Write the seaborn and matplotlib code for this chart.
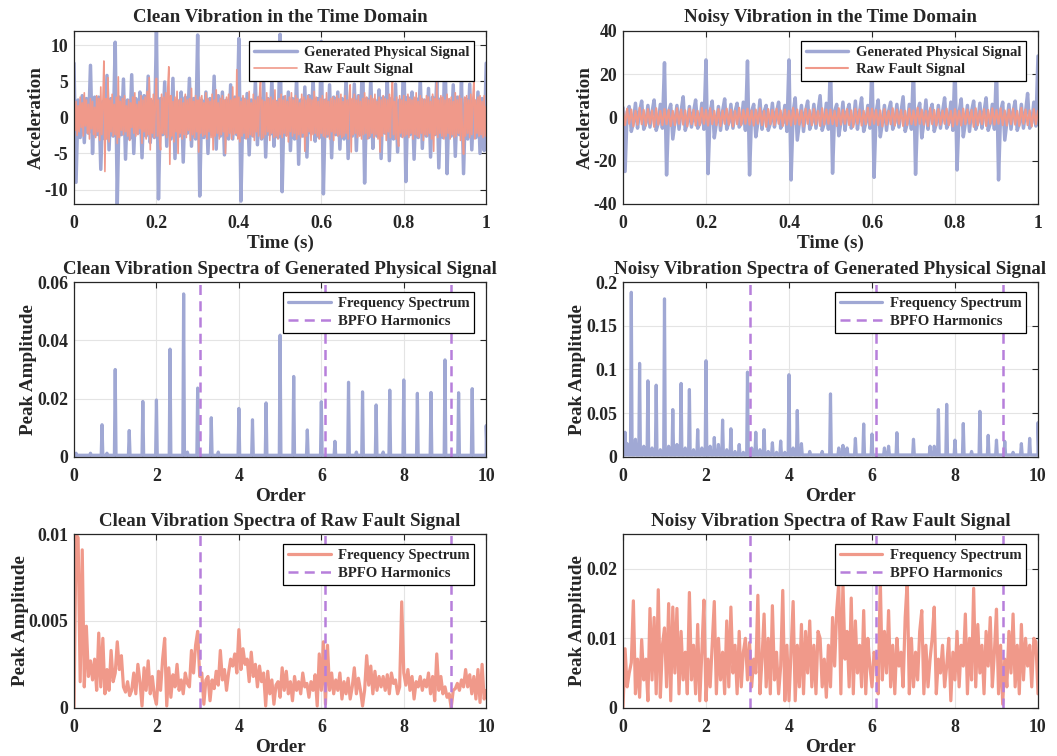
import numpy as np
import pandas as pd
import matplotlib
matplotlib.use("Agg")
import matplotlib.pyplot as plt
import seaborn as sns
from matplotlib.ticker import FuncFormatter

sns.set_style("white")
plt.rcParams["font.family"] = ["Liberation Serif", "DejaVu Serif"]
plt.rcParams.update({"font.weight": "bold", "axes.titleweight": "bold",
                     "axes.labelweight": "bold"})

BLUE = "#A0A8D4"
SALMON = "#F0998A"
PURPLE = "#B77FDB"

# ---------------- time domain data ----------------
# generated physical signal, clean, one sample every 0.005 s
clean_phys = [
    7.5, -9.0, 2.4, -2.8, 3.0, -3.5, 2.6, -2.2, 7.2, -5.0, 2.8, -2.4, 2.8, -7.2, 2.2, -3.0, 5.8, -4.5, 2.6, -2.6,
    10.4, -12.0, 2.8, -2.4, 5.3, -5.8, 2.4, -3.0, 5.9, -5.0, 2.6, -2.2, 3.5, -5.6, 3.0, -2.6, 5.7, -3.5, 2.2, -2.8,
    12.0, -11.3, 2.6, -2.4, 4.9, -4.0, 2.8, -3.0, 5.4, -5.7, 2.4, -2.6, 3.5, -6.2, 2.8, -2.2, 5.4, -4.0, 2.6, -3.0,
    11.4, -10.9, 2.4, -2.8, 3.5, -5.0, 2.6, -2.4, 5.7, -4.4, 3.0, -2.6, 3.5, -5.2, 2.4, -3.0, 4.5, -3.0, 2.8, -2.4,
    10.9, -11.6, 2.6, -2.8, 3.3, -5.2, 2.4, -2.6, 5.0, -3.8, 2.8, -3.0, 4.8, -5.5, 2.6, -2.4, 5.3, -4.0, 2.2, -2.8,
    11.5, -10.3, 2.8, -2.4, 3.5, -4.6, 2.6, -3.0, 5.6, -6.5, 2.4, -2.6, 4.2, -5.5, 3.0, -2.2, 5.5, -3.3, 2.6, -2.8,
    10.5, -10.6, 2.4, -2.6, 4.5, -5.6, 2.8, -2.4, 3.5, -4.4, 2.6, -3.0, 5.6, -5.7, 2.4, -2.6, 4.6, -4.6, 3.0, -2.4,
    9.5, -9.1, 2.6, -2.8, 5.5, -4.3, 2.4, -2.6, 3.8, -5.7, 2.8, -2.2, 5.2, -6.0, 2.6, -3.0, 4.6, -4.8, 2.4, -2.6,
    10.0, -8.9, 2.8, -2.4, 3.5, -5.8, 2.6, -2.8, 5.4, -4.3, 2.4, -2.6, 4.0, -5.5, 2.8, -2.4, 5.4, -7.0, 2.6, -2.8,
    10.0, -7.8, 2.4, -2.6, 4.5, -5.4, 2.8, -2.4, 5.0, -7.8, 2.6, -3.0, 4.6, -4.5, 2.4, -2.8, 3.5, -5.0, 2.6, -4.6,
    7.5,
]

# raw fault signal, clean, one sample every 0.0025 s
clean_raw = [
    0.5, -1.8, 2.2, -2.5, 1.6, -2.0, 2.8, -1.4, 2.0, -2.6, 3.4, -1.2, 2.4, -2.2, 1.8, -3.0, 2.6, -1.6, 2.2, -2.4,
    1.4, -2.8, 3.0, -2.0, 2.6, -3.2, 4.2, -2.4, 2.0, 7.8, -7.5, 2.6, -3.0, 5.5, -3.4, 2.4, -2.0, 3.2, -2.6, 1.8,
    -2.4, 2.8, -3.6, 5.6, -2.8, 2.2, -1.8, 2.6, -2.4, 3.0, -2.0, 1.6, -2.6, 2.4, -3.2, 2.0, -1.4, 2.8, -2.2, 3.4,
    -2.6, 1.8, -2.4, 2.2, -1.6, 3.0, -3.6, 2.4, -2.0, 2.8, -3.0, 3.6, -2.4, 5.5, -4.5, 2.6, -2.2, 3.2, -2.8, 2.0,
    5.4, -2.6, 2.4, -3.0, -4.5, 3.2, -2.2, 2.8, -2.4, 3.4, -2.8, 4.0, 7.0, -6.5, 3.0, -2.6, 2.2, -3.4, 2.8, -2.0,
    3.6, -5.0, 2.4, -2.2, 2.6, -3.0, 2.0, -2.4, 3.2, -2.8, 2.4, -1.8, 2.6, -3.2, 4.0, -2.4, 2.2, -2.8, 3.0, -2.0,
    2.4, -4.8, 2.8, -2.2, 3.0, -2.6, 2.0, -2.4, 3.4, -3.0, 2.6, -2.0, 2.2, -2.8, 3.2, -4.5, 2.4, -2.6, 3.8, -2.2,
    2.0, -3.0, 2.6, -2.4, 3.0, -2.0, 2.4, -5.0, 2.8, -2.6, 3.2, -2.2, 2.4, -3.0, 4.2, -2.4, 2.6, -2.2, 6.6, -3.0,
    2.8, -3.4, 2.2, -2.6, 3.0, -2.2, 2.6, -3.0, 2.4, -2.8, 3.6, -2.4, 2.0, -2.6, 3.2, -3.2, 2.4, -2.0, 2.8, -2.6,
    3.0, 5.0, -3.0, 2.4, -2.8, 2.2, -2.4, 3.4, -2.0, 2.6, -3.2, 2.8, -2.2, 2.4, -2.8, 3.8, -2.6, 2.2, -3.0, 2.6,
    -2.4, 3.2, -2.8, 2.4, -2.2, 3.0, -2.6, 2.2, -3.4, 2.8, -2.0, 3.4, -2.6, 2.4, -2.2, 3.0, -3.0, 2.6, -2.4, 2.0,
    -2.8, 3.2, -2.2, 2.8, -4.7, 2.4, -2.6, 3.0, -2.0, 2.6, -3.2, 2.4, -2.4, 3.6, -2.2, 2.8, -2.6, 2.2, -3.0, 2.6,
    -2.2, 3.0, -2.6, 2.4, -2.8, 3.4, -2.4, 2.2, -3.0, 2.6, -2.0, 2.8, -3.2, 2.4, -2.2, 3.0, -2.6, 2.6, -2.4, 3.2,
    -2.8, 2.2, -2.6, 3.0, -2.2, 2.4, -3.0, 2.8, 4.5, -4.8, 2.6, -2.4, 3.2, -2.2, 2.4, -2.8, 3.0, -2.6, 2.2, -3.0,
    2.6, -2.4, 3.4, -2.2, 2.8, -3.0, 2.4, -2.6, 3.0, -2.2, 2.6, -2.8, 3.2, -2.4, 2.2, -3.0, 2.8, -4.8, 2.4, -2.6,
    3.0, -2.2, 2.6, -3.2, 2.4, -2.0, 3.2, -2.8, 2.6, 5.0, -2.4, 2.2, -3.0, 2.8, -2.6, -4.0, 3.0, -2.2, 2.4, -2.8,
    3.0, -2.6, 2.2, -2.4, 3.2, -2.8, 2.6, -2.2, 2.4, -3.0, 2.8, -2.4, 3.4, -2.6, 2.2, -2.8, 3.0, -2.2, 2.6, -3.2,
    2.4, -2.4, 3.0, -2.6, 2.8, -2.2, 2.2, -3.0, 3.2, -4.7, 2.6, -2.4, 4.8, -2.8, 2.4, -2.2, 3.0, -2.6, 2.8, -3.0,
    2.4, -2.6, 3.2, -2.2, 2.6, -3.0, 2.8, -2.4, 2.2, -2.8, 3.4, -2.6, 2.4, -2.2, 3.0, -3.2, 2.6, -2.4, -5.1, 2.8,
    -2.6, 3.0, -2.2, 2.4, -2.8, 3.2, -2.4, 2.6, 5.0, -3.0, 2.4, -2.2, 2.8, -2.6, 3.0, -2.4, 2.2, -2.8, 3.0, -2.6,
    1.5,
]

# generated physical signal, noisy, one sample every 0.005 s
noisy_phys = [
    4.5, -25.0, 2.5, 5.0, -6.5, -2.4, 6.5, -5.0, 2.6, 7.5, -5.5, -2.8, 5.5, -4.5, 2.4, 8.0, -6.0, -2.6, 6.0, -5.0,
    25.2, -26.6, 2.6, 6.0, -10.0, -2.4, 5.5, -5.5, 2.8, 9.5, -6.0, -2.6, 5.0, -4.5, 2.4, 8.0, -5.0, -2.8, 6.5, -5.5,
    26.5, -26.0, 2.4, 7.5, -9.5, -2.6, 5.0, -6.0, 2.8, 8.5, -5.5, -2.4, 6.0, -5.0, 2.6, 6.5, -4.5, -2.8, 7.0, -6.0,
    26.0, -26.6, 2.8, 6.0, -9.0, -2.4, 8.0, -5.5, 2.6, 5.5, -6.0, -2.8, 6.5, -4.5, 2.4, 7.0, -5.0, -2.6, 5.5, -6.5,
    26.5, -28.9, 2.4, 9.0, -10.5, -2.6, 5.5, -6.5, 2.8, 7.5, -5.5, -2.4, 6.0, -5.0, 2.6, 10.0, -6.0, -2.8, 6.5, -5.5,
    26.0, -25.8, 2.8, 6.0, -8.5, -2.4, 7.0, -6.0, 2.6, 6.0, -5.0, -2.8, 7.5, -5.5, 2.4, 9.0, -6.5, -2.6, 5.5, -5.0,
    25.0, -27.7, 2.4, 8.0, -9.0, -2.6, 5.5, -6.0, 2.8, 7.0, -5.5, -2.4, 6.0, -4.5, 2.6, 9.5, -6.5, -2.8, 6.0, -5.5,
    24.0, -26.3, 2.8, 6.5, -9.5, -2.4, 8.0, -5.5, 2.6, 6.0, -6.5, -2.8, 5.5, -5.0, 2.4, 9.0, -5.0, -2.6, 7.0, -6.0,
    25.0, -24.3, 2.4, 8.5, -9.0, -2.6, 5.5, -6.5, 2.8, 7.5, -5.5, -2.4, 6.5, -5.0, 2.6, 9.0, -6.0, -2.8, 6.0, -5.5,
    24.0, -28.9, 2.8, 7.0, -10.5, -2.4, 6.0, -5.5, 2.6, 7.5, -6.0, -2.8, 6.0, -5.0, 2.4, 11.0, -5.0, -2.6, 7.0, -4.0,
    28.3,
]

# raw fault signal, noisy, one sample every 0.005 s
noisy_raw = [
    3.2, -3.6, 4.0, -3.0, 3.6, -4.2, 3.0, -3.4, 4.4, -3.2, 3.4, -3.8, 3.8, -3.0, 3.2, -4.4, 4.2, -3.4, 3.0, -3.6,
    3.8, -3.2, 3.4, -4.0, 3.0, -3.6, 4.2, -3.0, 3.6, -3.4, 3.2, -4.2, 4.0, -3.2, 3.4, -3.8, 3.0, -3.6, 4.4, -3.0,
    3.4, -3.8, 4.2, -3.2, 3.0, -3.6, 3.8, -4.0, 3.2, -3.0, 4.0, -3.4, 3.6, -4.2, 3.0, -3.2, 4.4, -3.6, 3.4, -3.0,
    4.0, -3.4, 3.2, -3.8, 3.6, -3.0, 4.2, -3.6, 3.0, -4.4, 3.8, -3.2, 3.4, -3.6, 4.0, -3.0, 3.2, -4.0, 3.6, -3.4,
    3.0, -3.8, 4.4, -3.2, 3.6, -3.4, 3.2, -4.2, 4.0, -3.0, 3.4, -3.6, 3.8, -3.2, 3.0, -4.0, 4.2, -3.4, 3.6, -3.0,
    3.6, -3.2, 3.0, -4.0, 4.2, -3.4, 3.4, -3.0, 3.8, -3.6, 3.2, -4.4, 4.0, -3.0, 3.6, -3.8, 3.0, -3.2, 4.4, -3.6,
    4.0, -3.0, 3.4, -3.6, 3.2, -4.2, 3.8, -3.4, 3.0, -3.2, 4.2, -3.8, 3.6, -3.0, 3.4, -4.0, 3.0, -3.6, 4.0, -3.2,
    3.2, -3.6, 4.4, -3.0, 3.6, -3.4, 3.0, -4.0, 4.2, -3.2, 3.4, -3.8, 3.8, -3.4, 3.2, -3.0, 4.0, -3.6, 3.0, -4.2,
    3.8, -3.4, 3.0, -3.8, 4.0, -3.2, 3.6, -3.0, 3.4, -4.4, 4.2, -3.6, 3.0, -3.2, 3.8, -4.0, 3.4, -3.0, 4.2, -3.4,
    3.4, -3.0, 4.2, -3.6, 3.2, -3.8, 3.6, -3.2, 4.0, -3.4, 3.0, -4.0, 4.4, -3.0, 3.6, -3.6, 3.2, -4.2, 3.8, -3.2,
    3.0,
]

# ---------------- spectra data ----------------
bpfo_orders = [3.05, 6.10, 9.15]

clean_phys_orders = [0.05, 0.4, 0.68, 0.8, 1.0, 1.34, 1.67, 2.0, 2.33, 2.66, 2.75, 3.0, 3.33, 3.5,
                     4.0, 4.33, 4.66, 5.0, 5.33, 5.66, 6.0, 6.33, 6.66, 6.85, 7.0, 7.33, 7.5,
                     7.66, 8.0, 8.33, 8.66, 9.0, 9.33, 9.66, 10.0]
clean_phys_amps = [0.0012, 0.0012, 0.011, 0.0012, 0.030, 0.009, 0.019, 0.0195, 0.037, 0.056, 0.0016,
                   0.0236, 0.0134, 0.0016, 0.0166, 0.0127, 0.0185, 0.0418, 0.0276, 0.0092, 0.0189,
                   0.0053, 0.0256, 0.0016, 0.0223, 0.0178, 0.0016, 0.0229, 0.0264, 0.0218, 0.0221,
                   0.0333, 0.022, 0.0234, 0.0107]

noisy_phys_orders = [0.05, 0.1, 0.2, 0.3, 0.4, 0.5, 0.6, 0.7, 0.8, 0.9, 1.0, 1.1, 1.2, 1.3, 1.4, 1.5,
                     1.6, 1.7, 1.8, 1.9, 2.0, 2.1, 2.2, 2.3, 2.4, 2.5, 2.6, 2.7, 2.8, 2.9, 3.0, 3.1,
                     3.2, 3.3, 3.4, 3.5, 3.6, 3.7, 3.8, 3.9, 4.0, 4.1, 4.2, 4.3, 4.5, 4.8, 5.0, 5.2,
                     5.3, 5.4, 5.6, 5.8, 6.0, 6.3, 6.4, 6.6, 7.0, 7.4, 7.5, 7.6, 7.8, 8.0, 8.2, 8.4,
                     8.6, 8.8, 9.0, 9.2, 9.4, 9.6, 9.8, 10.0]
noisy_phys_amps = [0.028, 0.015, 0.1885, 0.02, 0.107, 0.012, 0.087, 0.01, 0.082, 0.008, 0.181, 0.012,
                   0.054, 0.014, 0.084, 0.01, 0.077, 0.008, 0.031, 0.01, 0.11, 0.012, 0.022, 0.014,
                   0.042, 0.008, 0.032, 0.006, 0.014, 0.005, 0.097, 0.01, 0.028, 0.008, 0.031, 0.006,
                   0.016, 0.005, 0.018, 0.005, 0.094, 0.01, 0.053, 0.015, 0.006, 0.006, 0.072, 0.01,
                   0.013, 0.01, 0.021, 0.0375, 0.026, 0.01, 0.012, 0.0275, 0.02, 0.012, 0.012, 0.054,
                   0.06, 0.019, 0.038, 0.006, 0.052, 0.0245, 0.019, 0.0176, 0.005, 0.015, 0.021, 0.039]

# raw fault spectra, amplitudes in 1e-3, one value every 0.05 order
clean_raw_spec = [
    0.0, 10.0, 9.8, 1.5, 9.1, 1.2, 4.7, 1.8, 2.7, 1.6, 2.8, 1.0, 4.3, 1.2, 4.0, 0.8, 2.2, 1.0, 3.3, 1.5,
    2.0, 3.8, 2.2, 3.0, 1.2, 0.9, 1.5, 0.7, 1.0, 2.0, 0.8, 2.5, 1.5, 0.1, 2.3, 1.0, 2.7, 0.8, 1.8, 0.7,
    0.2, 2.1, 1.0, 2.8, 4.0, 0.1, 2.3, 0.6, 1.9, 1.2, 2.5, 1.0, 1.6, 0.8, 2.0, 1.4, 1.2, 3.3, 2.0, 3.6,
    4.4, 1.8, 2.0, 0.2, 1.6, 1.8, 0.4, 1.6, 1.1, 2.1, 1.3, 3.3, 1.6, 2.2, 1.0, 2.0, 2.8, 2.4, 3.1, 2.0,
    4.5, 2.2, 3.4, 2.5, 2.8, 1.5, 3.2, 1.8, 2.5, 1.2, 2.4, 1.5, 2.0, 0.1, 2.1, 0.8, 1.6, 0.2, 1.3, 1.5,
    0.6, 2.3, 1.0, 2.1, 0.8, 1.5, 0.4, 1.8, 1.0, 1.5, 0.8, 2.0, 1.2, 1.4, 0.6, 1.5, 1.0, 1.9, 0.1, 3.1,
    1.0, 3.8, 0.2, 3.6, 1.0, 2.0, 0.8, 1.6, 1.0, 2.0, 0.5, 1.5, 0.8, 1.7, 0.5, 1.2, 2.3, 0.8, 1.7, 1.0,
    0.1, 1.0, 3.0, 1.3, 2.4, 0.8, 2.1, 1.0, 1.8, 1.2, 1.8, 1.0, 1.9, 0.8, 2.0, 1.4, 1.6, 0.8, 1.2, 6.1,
    2.0, 1.3, 2.2, 1.0, 1.8, 0.5, 1.5, 1.2, 1.8, 1.0, 1.6, 1.2, 2.0, 0.8, 1.8, 0.4, 3.1, 1.0, 1.8, 0.8,
    1.2, 0.6, 0.8, 0.0, 1.0, 1.1, 1.4, 1.0, 1.6, 1.2, 2.2, 1.2, 1.9, 0.8, 1.8, 0.5, 2.2, 0.3, 2.5, 0.5,
    1.0,
]
noisy_raw_spec = [
    0.0, 8.5, 3.0, 5.0, 6.5, 15.4, 2.0, 7.0, 1.5, 9.8, 4.0, 7.0, 1.0, 14.3, 4.0, 13.0, 2.0, 17.0, 1.5, 9.0,
    11.5, 3.0, 15.0, 1.0, 14.5, 5.0, 14.3, 2.0, 11.0, 4.0, 8.0, 2.0, 16.6, 4.0, 9.0, 2.0, 12.0, 1.0, 8.0, 15.5,
    1.0, 7.0, 3.0, 9.0, 15.3, 2.0, 10.0, 4.0, 8.0, 2.0, 12.5, 3.0, 14.5, 5.0, 9.0, 2.0, 11.0, 3.0, 8.0, 10.0,
    4.0, 9.4, 3.0, 7.0, 5.0, 16.2, 2.0, 7.0, 13.5, 3.0, 10.0, 2.0, 14.7, 4.0, 8.0, 2.0, 6.0, 16.9, 1.0, 9.0,
    1.0, 8.0, 15.3, 1.0, 9.0, 3.0, 12.0, 2.0, 11.0, 5.0, 12.5, 3.0, 9.0, 2.0, 11.0, 10.0, 3.0, 7.0, 1.5, 9.0,
    3.0, 13.0, 6.0, 14.0, 18.0, 2.0, 18.0, 7.0, 11.0, 3.0, 15.8, 2.0, 12.5, 5.0, 9.0, 3.0, 14.0, 2.0, 10.0, 6.0,
    3.0, 8.0, 7.0, 2.0, 18.5, 4.0, 11.0, 5.0, 14.0, 3.0, 9.0, 2.0, 10.0, 6.0, 8.0, 3.0, 13.0, 18.3, 2.0, 10.0,
    3.0, 8.0, 4.0, 11.0, 14.0, 2.0, 9.0, 3.0, 7.0, 10.0, 14.5, 2.0, 7.0, 5.0, 9.0, 3.0, 6.0, 10.0, 1.0, 8.0,
    4.0, 11.0, 3.0, 9.0, 6.0, 13.5, 2.0, 10.0, 4.0, 17.2, 3.0, 12.0, 5.0, 9.0, 2.0, 11.0, 6.0, 13.0, 3.0, 8.0,
    14.2, 2.0, 9.0, 0.5, 7.0, 3.0, 11.0, 5.0, 13.5, 3.0, 9.0, 2.0, 12.0, 4.0, 10.0, 6.0, 9.0, 3.0, 10.0, 9.5,
    2.0,
]


def peak_frame(orders, amps, base, half=0.02):
    xs, ys = [0.0, 10.0], [base, base]
    for o, a in zip(orders, amps):
        xs += [o - half, o, o + half]
        ys += [base, a, base]
    return pd.DataFrame({"order": xs, "amp": ys}).sort_values("order")


fmt = FuncFormatter(lambda v, p: f"{v:g}")


def style(ax, xlim, ylim, xticks, yticks, title, xlabel, ylabel):
    ax.set_xlim(*xlim)
    ax.set_ylim(*ylim)
    ax.set_xticks(xticks)
    ax.set_yticks(yticks)
    ax.xaxis.set_major_formatter(fmt)
    ax.yaxis.set_major_formatter(fmt)
    ax.grid(True, color="#E4E4E4", linewidth=0.8)
    ax.set_axisbelow(True)
    for s in ax.spines.values():
        s.set_color("#262626")
        s.set_linewidth(0.9)
    ax.tick_params(direction="in", top=True, right=True, length=4, width=0.8,
                   labelsize=12.8, colors="#262626")
    ax.tick_params(axis="x", pad=8)
    ax.tick_params(axis="y", pad=4)
    ax.set_title(title, fontsize=13.6, pad=6)
    ax.set_xlabel(xlabel, fontsize=13.8, labelpad=2)
    ax.set_ylabel(ylabel, fontsize=13.8, labelpad=0)
    w = ax.get_position().width * 1057
    h = ax.get_position().height * 756
    ax.legend(loc="upper right", bbox_to_anchor=(1 - 12 / w, 1 - 10 / h), borderaxespad=0,
              fontsize=10.6, frameon=True, fancybox=False, edgecolor="black", framealpha=1,
              handlelength=2.9, labelspacing=0.3, borderpad=0.32, handletextpad=0.5)
    ax.get_legend().get_frame().set_linewidth(0.9)


fig = plt.figure(figsize=(10.57, 7.56), dpi=100)
lefts = [0.070, 0.5894]
widths = [0.390, 0.3926]
rows = [(0.7302, 0.2292), (0.3959, 0.2307), (0.0639, 0.2294)]
axes = [[fig.add_axes([lefts[c], rows[r][0], widths[c], rows[r][1]]) for c in range(2)] for r in range(3)]

# row 1: time domain
for c, (phys, raw, raw_lw, ylim, yt, name) in enumerate([
        (clean_phys, clean_raw, 1.2, (-12, 12), [-10, -5, 0, 5, 10], "Clean"),
        (noisy_phys, noisy_raw, 1.5, (-40, 40), [-40, -20, 0, 20, 40], "Noisy")]):
    ax = axes[0][c]
    df_p = pd.DataFrame({"t": np.linspace(0, 1, len(phys)), "a": phys})
    df_r = pd.DataFrame({"t": np.linspace(0, 1, len(raw)), "a": raw})
    sns.lineplot(data=df_p, x="t", y="a", ax=ax, color=BLUE, linewidth=2.5,
                 estimator=None, label="Generated Physical Signal")
    sns.lineplot(data=df_r, x="t", y="a", ax=ax, color=SALMON, linewidth=raw_lw,
                 estimator=None, label="Raw Fault Signal")
    style(ax, (0, 1), ylim, np.arange(0, 1.01, 0.2), yt,
          f"{name} Vibration in the Time Domain", "Time (s)", "Acceleration")

# rows 2-3: spectra
spec_sets = [
    (1, 0, peak_frame(clean_phys_orders, clean_phys_amps, 0.0005), BLUE, (0, 0.06), [0, 0.02, 0.04, 0.06],
     "Clean Vibration Spectra of Generated Physical Signal"),
    (1, 1, peak_frame(noisy_phys_orders, noisy_phys_amps, 0.002), BLUE, (0, 0.2), [0, 0.05, 0.1, 0.15, 0.2],
     "Noisy Vibration Spectra of Generated Physical Signal"),
    (2, 0, pd.DataFrame({"order": np.linspace(0, 10, len(clean_raw_spec)),
                         "amp": np.array(clean_raw_spec) * 1e-3}), SALMON, (0, 0.01), [0, 0.005, 0.01],
     "Clean Vibration Spectra of Raw Fault Signal"),
    (2, 1, pd.DataFrame({"order": np.linspace(0, 10, len(noisy_raw_spec)),
                         "amp": np.array(noisy_raw_spec) * 1e-3}), SALMON, (0, 0.025), [0, 0.01, 0.02],
     "Noisy Vibration Spectra of Raw Fault Signal"),
]
for r, c, df, color, ylim, yt, title in spec_sets:
    ax = axes[r][c]
    sns.lineplot(data=df, x="order", y="amp", ax=ax, color=color, linewidth=2.3,
                 estimator=None, sort=False, label="Frequency Spectrum")
    for i, o in enumerate(bpfo_orders):
        ax.axvline(o, color=PURPLE, linestyle=(0, (4, 2.5)), linewidth=1.8,
                   label="BPFO Harmonics" if i == 0 else None)
    style(ax, (0, 10), ylim, [0, 2, 4, 6, 8, 10], yt, title, "Order", "Peak Amplitude")

fig.savefig("out.png", dpi=100)
